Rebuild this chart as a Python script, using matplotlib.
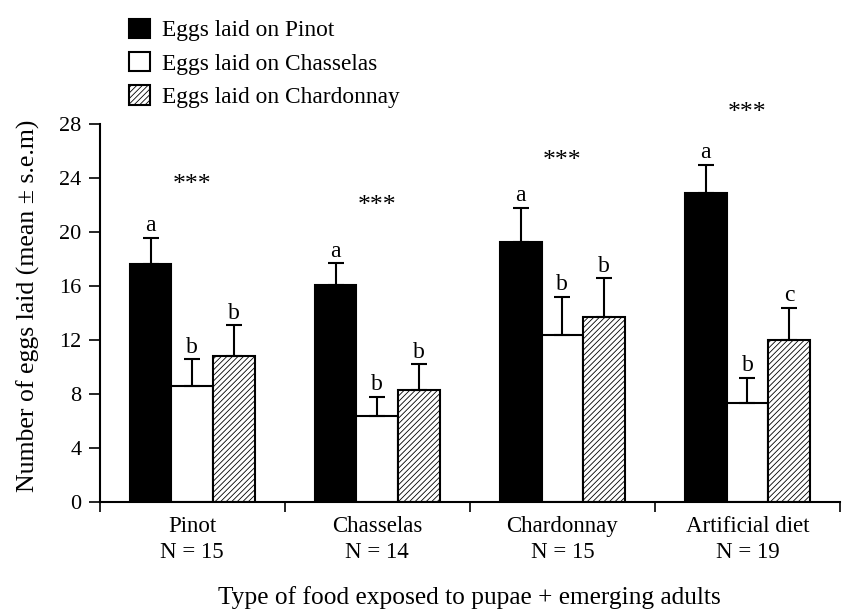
import matplotlib
matplotlib.use("Agg")
import matplotlib.pyplot as plt
import numpy as np

plt.rcParams['font.family'] = ['Liberation Serif', 'DejaVu Serif']
plt.rcParams['hatch.linewidth'] = 0.6

groups = ["Pinot\nN = 15", "Chasselas\nN = 14", "Chardonnay\nN = 15", "Artificial diet\nN = 19"]
series_names = ["Eggs laid on Pinot", "Eggs laid on Chasselas", "Eggs laid on Chardonnay"]
pinot_mean = [17.6, 16.1, 19.3, 22.9]
pinot_err = [2.0, 1.6, 2.5, 2.1]
chasselas_mean = [8.6, 6.4, 12.4, 7.3]
chasselas_err = [2.0, 1.4, 2.8, 1.9]
chardonnay_mean = [10.8, 8.3, 13.7, 12.0]
chardonnay_err = [2.3, 1.9, 2.9, 2.4]
pinot_letters = ["a", "a", "a", "a"]
chasselas_letters = ["b", "b", "b", "b"]
chardonnay_letters = ["b", "b", "b", "c"]
star_text = ["***", "***", "***", "***"]
star_y = [23.5, 21.9, 25.3, 28.8]

fig = plt.figure(figsize=(8.45, 6.09), dpi=100)
ax = fig.add_axes([0.118, 0.176, 0.876, 0.620])

x = np.arange(len(groups))
w = 0.225
means = [pinot_mean, chasselas_mean, chardonnay_mean]
errs = [pinot_err, chasselas_err, chardonnay_err]
letters = [pinot_letters, chasselas_letters, chardonnay_letters]
faces = ["black", "white", "white"]
hatches = [None, None, "//////"]
offsets = [-w, 0, w]

for m, e, l, fc, h, off, name in zip(means, errs, letters, faces, hatches, offsets, series_names):
    ax.bar(x + off, m, width=w, color=fc, edgecolor="black", linewidth=1.5,
           hatch=h, label=name, zorder=2)
    ax.errorbar(x + off, m, yerr=[np.zeros(len(m)), e], fmt="none", ecolor="black",
                elinewidth=1.5, capsize=6, capthick=1.5, zorder=3)
    for xi, mi, ei, li in zip(x + off, m, e, l):
        ax.text(xi, mi + ei + 0.1, li, ha="center", va="bottom", fontsize=17)

for xi, s, yy in zip(x, star_text, star_y):
    ax.text(xi, yy, s, ha="center", va="center", fontsize=18.5, clip_on=False)

ax.set_xlim(-0.5, 3.5)
ax.set_ylim(0, 28)
ax.set_yticks(np.arange(0, 29, 4))
ax.tick_params(axis="y", labelsize=16, direction="out", length=8, width=1.2, pad=5)
ax.set_xticks(x)
ax.set_xticklabels(groups, fontsize=16.5, linespacing=1.35)
ax.tick_params(axis="x", length=0, pad=10)
ax.set_xticks(np.arange(-0.5, 4.0, 1.0), minor=True)
ax.tick_params(axis="x", which="minor", length=7, width=1.2, direction="out")

for sp in ["top", "right"]:
    ax.spines[sp].set_visible(False)
for sp in ["left", "bottom"]:
    ax.spines[sp].set_linewidth(1.5)

ax.set_ylabel("Number of eggs laid (mean ± s.e.m)", fontsize=18.5)
ax.yaxis.set_label_coords(-0.080, 0.52)
ax.set_xlabel("Type of food exposed to pupae + emerging adults", fontsize=18.3, labelpad=16)

fig.legend(loc="upper left", bbox_to_anchor=(0.130, 1.0), frameon=False,
           fontsize=16.8, handlelength=0.9, handleheight=0.9, handletextpad=0.55,
           labelspacing=0.45, borderaxespad=0.4)

fig.savefig("out.png", dpi=100)
